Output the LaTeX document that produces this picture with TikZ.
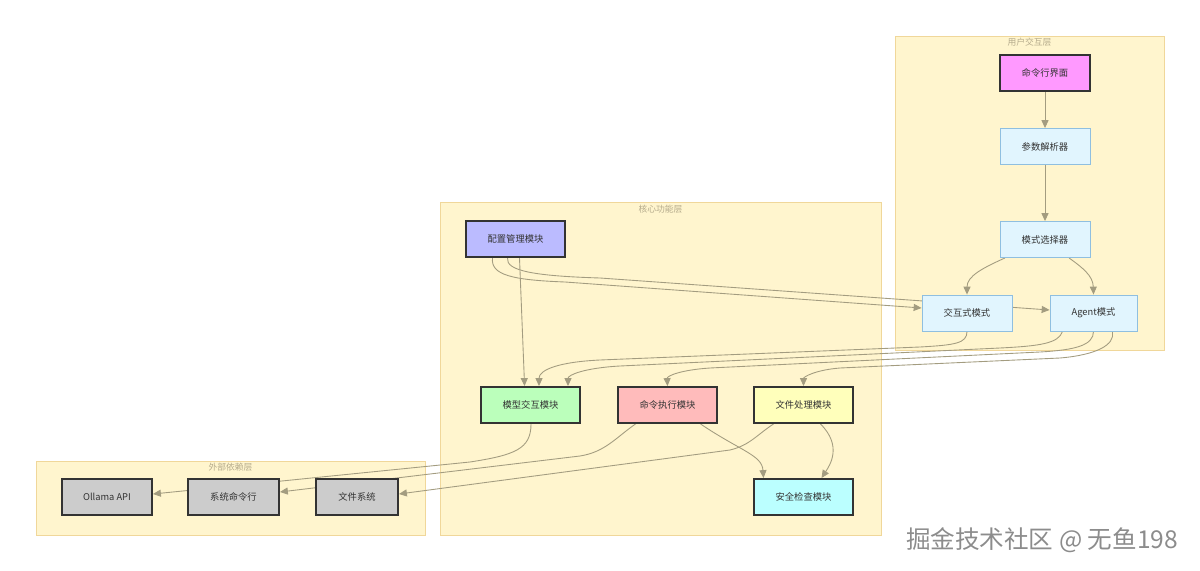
\documentclass[tikz,border=0pt]{standalone}
\usepackage{fontspec}
\setmainfont{Noto Sans CJK SC}
\usetikzlibrary{calc,arrows.meta}
\pgfdeclarelayer{bg}\pgfdeclarelayer{edges}
\pgfsetlayers{bg,edges,main}
\definecolor{ink}{HTML}{333333}
\definecolor{layfill}{HTML}{FFF5CE}
\definecolor{laystroke}{HTML}{F0D79A}
\definecolor{laytext}{HTML}{B5AB8C}
\definecolor{edgec}{HTML}{A39C80}
\definecolor{uifill}{HTML}{E1F5FE}
\definecolor{uiline}{HTML}{8FBFE0}

\begin{document}
\begin{tikzpicture}[x=0.02cm,y=-0.02cm,
  box/.style={draw=ink,line width=1.1pt,minimum height=0.72cm,minimum width=1.98cm,
    inner sep=0pt,text=ink,font=\fontsize{5.3}{6}\selectfont},
  ui/.style={box,draw=uiline,line width=0.5pt,fill=uifill,minimum width=1.8cm},
  ext/.style={box,fill=black!20,minimum width=1.8cm},
  layer/.style={draw=laystroke,fill=layfill,line width=0.5pt},
  laytitle/.style={text=laytext,font=\fontsize{5}{6}\selectfont},
  flow/.style={draw=edgec,line width=0.5pt,-{Triangle[length=4.5pt,width=4pt]},fill=none}]
  \useasboundingbox (0,0) rectangle (1200,571);
  % capas
  \begin{pgfonlayer}{bg}
    \draw[layer] (895,36) rectangle (1164,350);
    \draw[layer] (440,202) rectangle (881,535);
    \draw[layer] (36,461) rectangle (425,535);
  \end{pgfonlayer}
  \node[laytitle] (tuser) at (1029.5,42) {用户交互层};
  \node[laytitle] (tcore) at (660.5,209) {核心功能层};
  \node[laytitle] (text) at (230.5,467) {外部依赖层};
  % capa de usuario
  \node[box,minimum width=1.8cm,fill={rgb,255:red,255;green,153;blue,255}] (cli) at (1045,73) {命令行界面};
  \node[ui] (parser) at (1045,146.5) {参数解析器};
  \node[ui] (selector) at (1045,239.5) {模式选择器};
  \node[ui] (inter) at (967,313) {交互式模式};
  \node[ui,minimum width=1.74cm] (agent) at (1093.5,313) {Agent模式};
  % nucleo
  \node[box,fill={rgb,255:red,187;green,187;blue,255}] (config) at (515.5,239) {配置管理模块};
  \node[box,fill={rgb,255:red,187;green,255;blue,187}] (model) at (530.5,405) {模型交互模块};
  \node[box,fill={rgb,255:red,255;green,187;blue,187}] (exec) at (667.5,405) {命令执行模块};
  \node[box,fill={rgb,255:red,255;green,255;blue,187}] (file) at (803.5,405) {文件处理模块};
  \node[box,fill={rgb,255:red,187;green,255;blue,255}] (safety) at (803.5,497) {安全检查模块};
  % dependencias externas
  \node[ext] (ollama) at (107,497) {Ollama API};
  \node[ext,minimum width=1.82cm] (syscmd) at (233.5,497) {系统命令行};
  \node[ext,minimum width=1.64cm] (fs) at (357,497) {文件系统};
  % flechas
  \begin{pgfonlayer}{edges}
    \draw[flow] (cli) -- (parser);
    \draw[flow] (parser) -- (selector);
    \draw[flow] ($(selector.south)+(-40,0)$) .. controls +(-22,10) and (967,276) .. (inter.north);
    \draw[flow] ($(selector.south)+(24,0)$) .. controls +(14,10) and (1093,276) .. (agent.north);
    \draw[flow] ($(config.south)+(-23,0)$) .. controls +(-2,17) and (512,280) .. (565,282)
      -- ($(inter.west)+(0,-5)$);
    \draw[flow] ($(config.south)+(-8,0)$) .. controls +(-2,13) and (535,276) .. (600,278)
      -- ($(agent.west)+(0,-3)$);
    \draw[flow] ($(config.south)+(4,0)$) .. controls +(3,60) .. ($(model.north)+(-6,0)$);
    \draw[flow] (inter.south) .. controls +(0,12) and (955,345) .. (920,347)
      -- (600,360) .. controls (558,362) and (539,370) .. ($(model.north)+(8.5,0)$);
    \draw[flow] ($(agent.south)+(-31,0)$) .. controls +(-4,12) and (1040,346) .. (1000,348)
      -- (620,366) .. controls (584,368) and (568,375) .. ($(model.north)+(37.5,0)$);
    \draw[flow] (agent.south) .. controls +(0,14) and (1075,350) .. (1040,352)
      -- (710,368) .. controls (680,370) and (667,376) .. (exec.north);
    \draw[flow] ($(agent.south)+(19,0)$) .. controls +(3,14) and (1095,355) .. (1060,358)
      -- (840,368) .. controls (815,370) and (803.5,377) .. (file.north);
    \draw[flow] ($(model.south)+(0.5,0)$) .. controls +(0,25) and (515,455) .. (470,462)
      -- ($(ollama.east)+(0,-3)$);
    \draw[flow] ($(exec.south)+(-32,0)$) .. controls +(-20,14) and (605,452) .. (580,456)
      -- ($(syscmd.east)+(0,-5)$);
    \draw[flow] ($(exec.south)+(33,0)$) .. controls +(40,27) and (762,455) .. ($(safety.north)+(-40,0)$);
    \draw[flow] ($(file.south)+(-30,0)$) .. controls +(-18,12) and (750,445) .. (730,450)
      -- ($(fs.east)+(0,-3)$);
    \draw[flow] ($(file.south)+(17,0)$) .. controls +(22,22) and (830,465) .. ($(safety.north)+(18,0)$);
  \end{pgfonlayer}
  % marca de agua
  \node[text=black!45,font=\fontsize{14}{16}\selectfont] (mark) at (1042,540) {掘金技术社区 @ 无鱼198};
\end{tikzpicture}
\end{document}
